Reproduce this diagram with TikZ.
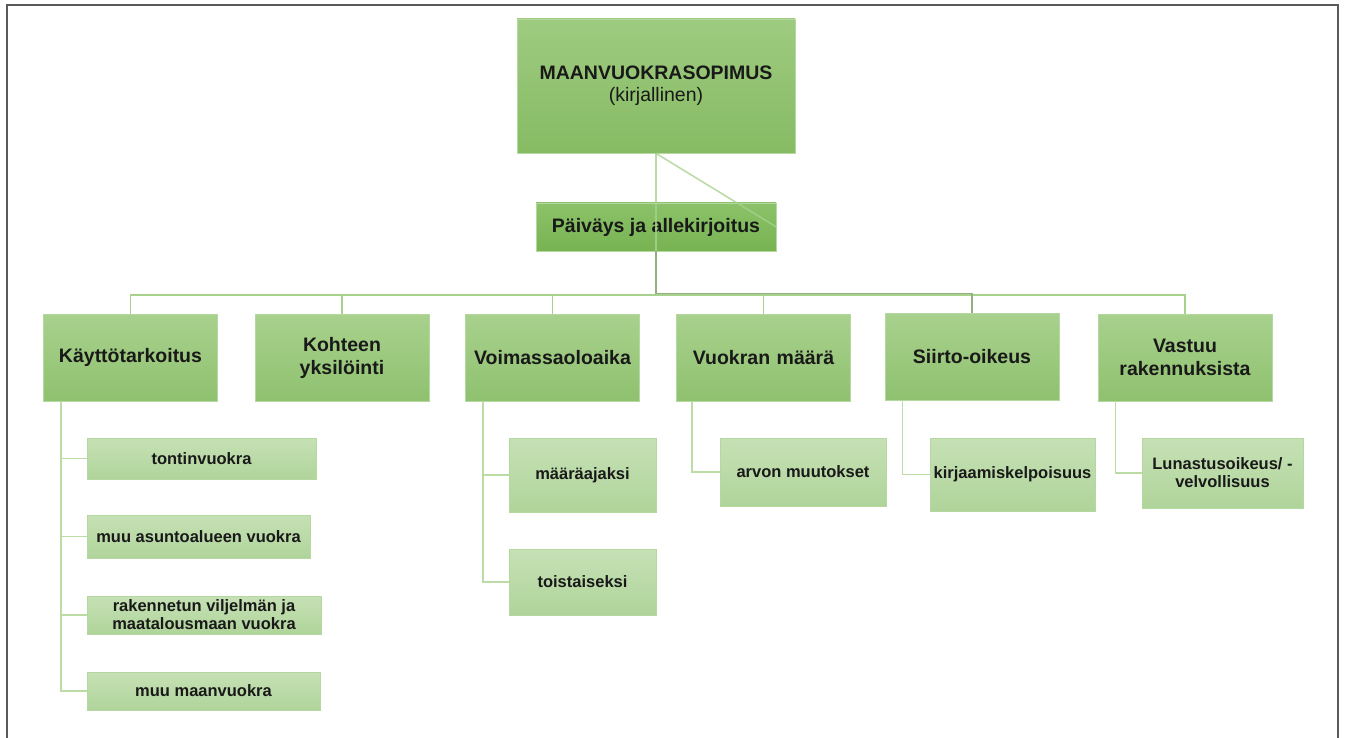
\documentclass[tikz,border=0pt]{standalone}
\usepackage{fontspec}
\setmainfont{Liberation Sans}
\usetikzlibrary{calc}
\definecolor{conn}{HTML}{A9D18E}
\definecolor{connlight}{HTML}{BCDCA6}
\definecolor{frame}{HTML}{5A5A5A}
\definecolor{mtop}{HTML}{9ECB80}
\definecolor{mbot}{HTML}{86BB63}
\definecolor{ptop}{HTML}{8CC269}
\definecolor{pbot}{HTML}{77B352}
\definecolor{ltop}{HTML}{A8D18D}
\definecolor{lbot}{HTML}{8FC16F}
\definecolor{stop}{HTML}{C6E1B5}
\definecolor{sbot}{HTML}{AFD49A}
\definecolor{edge}{HTML}{B5D8A0}
\begin{document}
\begin{tikzpicture}[x=1pt,y=-1pt,
  conn/.style={draw=conn,line width=1.5pt},
  subconn/.style={draw=connlight,line width=1.5pt},
  boxbase/.style={draw=edge,line width=0.8pt,align=center,inner sep=2pt,text=black!90},
  mainbox/.style={boxbase,top color=mtop,bottom color=mbot,minimum width=278pt,minimum height=134pt,font=\fontsize{19.5}{22}\selectfont},
  datebox/.style={boxbase,top color=ptop,bottom color=pbot,minimum width=240pt,minimum height=48pt,font=\bfseries\fontsize{19.5}{23}\selectfont},
  lvtwo/.style={boxbase,top color=ltop,bottom color=lbot,minimum width=174pt,minimum height=87pt,text width=166pt,font=\bfseries\fontsize{19.5}{23}\selectfont},
  lvthree/.style={boxbase,top color=stop,bottom color=sbot,font=\bfseries\fontsize{16.5}{18}\selectfont},
]
\useasboundingbox (0,0) rectangle (1346,738);
\fill[white] (0,0) rectangle (1346,738);
\draw[frame,line width=2pt] (7,738) -- (7,5) -- (1338,5) -- (1338,738);

\coordinate (bus) at (0,295);

% top
\node[mainbox] (main) at (656,86) {\textbf{MAANVUOKRASOPIMUS}\\(kirjallinen)};
\node[datebox] (pv) at (656,227) {Päiväys ja allekirjoitus};

% level 2
\node[lvtwo] (kt) at (130.5,357.5) {Käyttötarkoitus};
\node[lvtwo] (ky) at (342,357.5) {Kohteen\\yksilöinti};
\node[lvtwo] (va) at (552.5,357.5) {Voimassaoloaika};
\node[lvtwo] (vm) at (763.5,357.5) {Vuokran määrä};
\node[lvtwo] (so) at (972,356.5) {Siirto-oikeus};
\node[lvtwo] (vr) at (1185,357.5) {Vastuu\\rakennuksista};

% level 3
\node[lvthree,minimum width=229pt,minimum height=41pt] (t1) at (201.5,458.5) {tontinvuokra};
\node[lvthree,minimum width=223pt,minimum height=43pt] (t2) at (198.5,536.5) {muu asuntoalueen vuokra};
\node[lvthree,minimum width=234pt,minimum height=38pt,inner sep=0pt] (t3) at (204,615) {rakennetun viljelmän ja\\maatalousmaan vuokra};
\node[lvthree,minimum width=233pt,minimum height=38pt] (t4) at (203.5,691) {muu maanvuokra};
\node[lvthree,minimum width=147pt,minimum height=74pt] (v1) at (582.5,475) {määräajaksi};
\node[lvthree,minimum width=147pt,minimum height=66pt] (v2) at (582.5,582) {toistaiseksi};
\node[lvthree,minimum width=166pt,minimum height=68pt] (m1) at (803,472) {arvon muutokset};
\node[lvthree,minimum width=165pt,minimum height=73pt,inner sep=0pt] (s1) at (1012.5,474.5) {kirjaamiskelpoisuus};
\node[lvthree,minimum width=161pt,minimum height=70pt] (r1) at (1222.5,473) {Lunastusoikeus/ -\\velvollisuus};

% connectors from the main box
\draw[conn,opacity=0.8] (main.south) -- (main.south |- bus);
\draw[conn,opacity=0.8] (main.south) -- (pv.east);

% bus to level 2
\foreach \n in {kt,ky,va,vm,vr}
  \draw[conn] (pv.south) -- (pv.south |- bus) -| (\n.north);
\draw[conn,draw=conn!80!black!90] (pv.south) -- ($(pv.south |- bus)+(0,-1.5)$) -| (so.north);

% level 3 connectors
\foreach \n in {t1,t2,t3,t4}
  \draw[subconn] ($(kt.south west)+(18,0)$) |- (\n.west);
\foreach \n in {v1,v2}
  \draw[subconn] ($(va.south west)+(18,0)$) |- (\n.west);
\draw[subconn] ($(vm.south west)+(16,0)$) |- (m1.west);
\draw[subconn] ($(so.south west)+(18,0)$) |- (s1.west);
\draw[subconn] ($(vr.south west)+(18,0)$) |- (r1.west);
\end{tikzpicture}
\end{document}
